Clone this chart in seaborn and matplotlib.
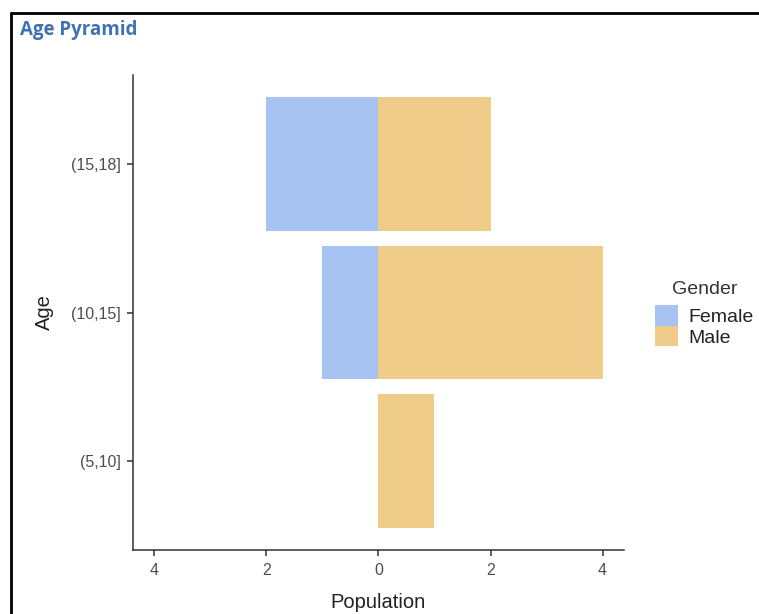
import numpy as np
import pandas as pd
import matplotlib
matplotlib.use("Agg")
import matplotlib.pyplot as plt
import seaborn as sns
from matplotlib.patches import Patch
from matplotlib.ticker import FuncFormatter
from matplotlib.lines import Line2D

# age groups, top to bottom
ages = ["(15,18]", "(10,15]", "(5,10]"]
female = [2, 1, 0]
male = [2, 4, 1]
genders = ["Female", "Male"]
colors = {"Female": "#a6c3f2", "Male": "#f0cc8a"}

df = pd.DataFrame({
    "Age": ages * 2,
    "Gender": ["Female"] * len(ages) + ["Male"] * len(ages),
    "Population": [-v for v in female] + male,
})

sns.set_theme(style="ticks")
plt.rcParams["font.family"] = ["Liberation Sans", "DejaVu Sans"]

fig = plt.figure(figsize=(7.59, 6.14), dpi=100)
ax = fig.add_axes([0.1752, 0.1042, 0.6468, 0.7736])

sns.barplot(data=df, x="Population", y="Age", hue="Gender", order=ages,
            hue_order=genders, palette=colors, dodge=False, width=0.9,
            orient="h", saturation=1, ax=ax, legend=False, linewidth=0)

ax.set_xlim(-4.38, 4.38)
ax.set_ylim(2.6, -0.6)
ax.set_xticks([-4, -2, 0, 2, 4])
ax.xaxis.set_major_formatter(FuncFormatter(lambda v, p: f"{abs(v):.0f}"))
ax.tick_params(axis="both", colors="#333333", labelcolor="#4d4d4d",
               labelsize=11.5, length=4, width=1.1, pad=5)
for s in ["top", "right"]:
    ax.spines[s].set_visible(False)
for s in ["left", "bottom"]:
    ax.spines[s].set_color("#333333")
    ax.spines[s].set_linewidth(1.1)

ax.set_xlabel("Population", fontsize=14.5, color="#222222", labelpad=11)
ax.set_ylabel("Age", fontsize=14.5, color="#222222", labelpad=12)

handles = [Patch(facecolor=colors[g], edgecolor="none", label=g) for g in genders]
leg = ax.legend(handles=handles, title="Gender", loc="center left",
                bbox_to_anchor=(1.045, 0.497), frameon=False, fontsize=14,
                title_fontsize=14, handlelength=1.2, handleheight=1.25,
                labelspacing=0.0, handletextpad=0.55, borderaxespad=0,
                borderpad=0.45)
leg._legend_box.sep = 5
leg.get_title().set_color("#333333")
for t in leg.get_texts():
    t.set_color("#222222")

fig.text(0.026, 0.951, "Age Pyramid", fontsize=13.5, fontweight="bold",
         color="#3f72b5", ha="left", va="center",
         family=["Open Sans", "DejaVu Sans"])

# page frame: top and left edges
fig.add_artist(Line2D([0.0145, 1.0], [0.979, 0.979], color="black", lw=2,
                      transform=fig.transFigure))
fig.add_artist(Line2D([0.0145, 0.0145], [0.0, 0.979], color="black", lw=2,
                      transform=fig.transFigure))

fig.savefig("out.png", dpi=100)
